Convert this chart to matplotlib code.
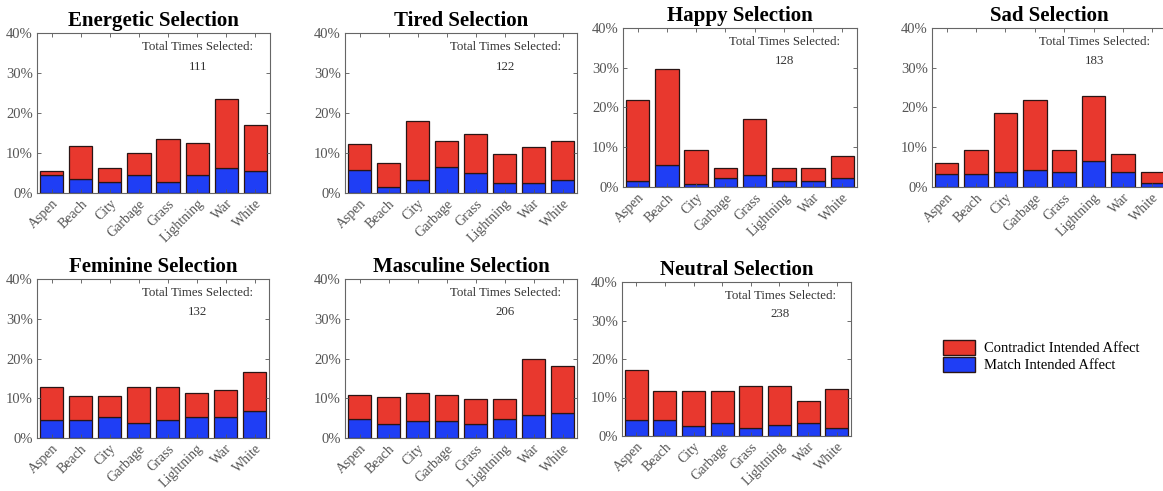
import numpy as np
import matplotlib.pyplot as plt
from matplotlib.patches import Patch

plt.rcParams['font.family'] = ['Liberation Serif', 'DejaVu Serif']

# scenes shown on every x axis
scenes = ['Aspen', 'Beach', 'City', 'Garbage', 'Grass', 'Lightning', 'War', 'White']

# percent of selections per scene (total height of each bar)
energetic_total = [5.4, 11.7, 6.3, 9.9, 13.5, 12.6, 23.4, 17.1]
tired_total = [12.3, 7.4, 18.0, 13.1, 14.8, 9.8, 11.5, 13.1]
happy_total = [21.9, 29.7, 9.4, 4.7, 17.2, 4.7, 4.7, 7.8]
sad_total = [6.0, 9.3, 18.6, 21.9, 9.3, 23.0, 8.2, 3.8]
feminine_total = [12.9, 10.6, 10.6, 12.9, 12.9, 11.4, 12.1, 16.7]
masculine_total = [10.7, 10.2, 11.2, 10.7, 9.7, 9.7, 19.9, 18.0]
neutral_total = [17.2, 11.8, 11.8, 11.8, 13.0, 13.0, 9.2, 12.2]

# percent of selections that matched the intended affect (blue part)
energetic_match = [4.5, 3.6, 2.7, 4.5, 2.7, 4.5, 6.3, 5.4]
tired_match = [5.7, 1.6, 3.3, 6.6, 4.9, 2.5, 2.5, 3.3]
happy_match = [1.6, 5.5, 0.8, 2.3, 3.1, 1.6, 1.6, 2.3]
sad_match = [3.3, 3.3, 3.8, 4.4, 3.8, 6.6, 3.8, 1.1]
feminine_match = [4.5, 4.5, 5.3, 3.8, 4.5, 5.3, 5.3, 6.8]
masculine_match = [4.9, 3.4, 4.4, 4.4, 3.4, 4.9, 5.8, 6.3]
neutral_match = [4.2, 4.2, 2.5, 3.4, 2.1, 2.9, 3.4, 2.1]

titles = ['Energetic', 'Tired', 'Happy', 'Sad', 'Feminine', 'Masculine', 'Neutral']
times_selected = [111, 122, 128, 183, 132, 206, 238]

totals = [energetic_total, tired_total, happy_total, sad_total,
          feminine_total, masculine_total, neutral_total]
matches = [energetic_match, tired_match, happy_match, sad_match,
           feminine_match, masculine_match, neutral_match]

RED = '#e8382e'
BLUE = '#1f3ef5'
EDGE = '#2a1515'
GRAY = '#555555'

W, H = 1163, 491
# axes boxes in pixels: left, top, right, bottom
boxes = [(37, 33, 270, 193), (345, 33, 577, 193), (623, 28, 857, 187),
         (932, 28, 1167, 187), (37, 279, 269, 438), (345, 279, 577, 438),
         (622, 282, 851, 436)]

fig = plt.figure(figsize=(W / 100, H / 100), dpi=100)

x = np.arange(1, len(scenes) + 1)
for name, n, tot, mat, (l, t, r, b) in zip(titles, times_selected, totals,
                                           matches, boxes):
    ax = fig.add_axes([l / W, 1 - b / H, (r - l) / W, (b - t) / H])
    tot = np.array(tot)
    mat = np.array(mat)
    ax.bar(x, mat, width=0.8, color=BLUE, edgecolor=EDGE, linewidth=0.9)
    ax.bar(x, tot - mat, bottom=mat, width=0.8, color=RED, edgecolor=EDGE,
           linewidth=0.9)
    ax.set_xlim(0.5, 8.5)
    ax.set_ylim(0, 40)
    ax.set_yticks([0, 10, 20, 30, 40])
    ax.set_yticklabels(['%d%%' % v for v in [0, 10, 20, 30, 40]])
    ax.set_xticks(x)
    ax.set_xticklabels(scenes, rotation=45, ha='right', va='top',
                       rotation_mode='anchor')
    ax.tick_params(direction='in', length=3, width=0.6, color=GRAY,
                   labelcolor=GRAY, top=True, right=True, pad=3)
    ax.tick_params(axis='y', labelsize=10.5)
    ax.tick_params(axis='x', labelsize=10)
    for s in ax.spines.values():
        s.set_color('#666666')
        s.set_linewidth(0.8)
    ax.set_title(name + ' Selection', fontsize=15, fontweight='bold', pad=5)
    ax.text(0.69, 0.91, 'Total Times Selected:', transform=ax.transAxes,
            ha='center', va='center', fontsize=9.3, color='#333333')
    ax.text(0.69, 0.79, str(n), transform=ax.transAxes, ha='center',
            va='center', fontsize=9.3, color='#333333')

handles = [Patch(facecolor=RED, edgecolor=EDGE, label='Contradict Intended Affect'),
           Patch(facecolor=BLUE, edgecolor=EDGE, label='Match Intended Affect')]
fig.legend(handles=handles, loc='upper left', bbox_to_anchor=(943 / W, 1 - 340 / H),
           frameon=False, fontsize=10.5, handlelength=2.2, handleheight=1.2,
           labelspacing=0.1, handletextpad=0.6, borderpad=0, borderaxespad=0)

fig.savefig('out.png', dpi=100)
